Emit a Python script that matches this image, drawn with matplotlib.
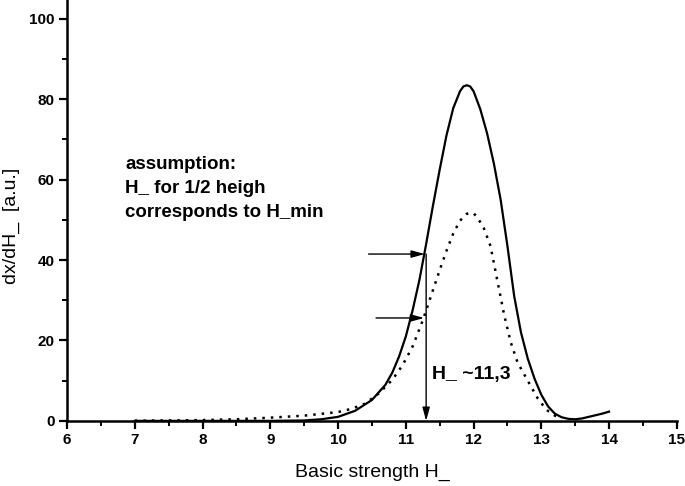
import matplotlib
matplotlib.use('Agg')
import matplotlib.pyplot as plt
from matplotlib.ticker import MultipleLocator

plt.rcParams['font.family'] = ['Liberation Sans', 'DejaVu Sans']

# solid curve
h_solid = [7, 8, 9, 9.5, 9.75, 10, 10.25, 10.5, 10.7, 10.8, 10.9, 11.0, 11.1, 11.2,
           11.3, 11.4, 11.5, 11.6, 11.7, 11.8, 11.85, 11.9, 11.95, 12.0, 12.1,
           12.2, 12.3, 12.4, 12.5, 12.6, 12.7, 12.8, 12.9, 13.0, 13.1, 13.2,
           13.3, 13.4, 13.5, 13.6, 13.75, 13.9, 14.0]
d_solid = [0, 0, 0, 0.1, 0.4, 1.0, 2.5, 5.2, 9.0, 12.0, 16.0, 21, 27.5, 35,
           44, 53.5, 62.5, 71, 77.8, 82, 83.2, 83.5, 83.2, 82, 77.5,
           71.5, 64, 55, 43.5, 31, 22, 15.5, 10.5, 6.5, 3.6, 1.8,
           0.9, 0.5, 0.4, 0.6, 1.2, 1.8, 2.3]

# dotted curve
h_dot = [7, 7.5, 8, 8.5, 9, 9.5, 10, 10.2, 10.4, 10.6, 10.8, 10.95, 11.1, 11.25,
         11.4, 11.5, 11.6, 11.7, 11.8, 11.9, 11.95, 12.0, 12.05, 12.15, 12.25,
         12.35, 12.45, 12.55, 12.65, 12.8, 12.95, 13.08, 13.2, 13.3]
d_dot = [0.05, 0.1, 0.2, 0.4, 0.8, 1.3, 2.2, 3.0, 4.3, 6.8, 10.2, 13.8, 18.5, 25,
         32.5, 37.5, 42.3, 46.6, 49.8, 51.5, 51.8, 51.6, 50.8, 48, 43.5,
         35, 26.5, 19.5, 14.5, 10, 5.5, 2.7, 1.3, 0.8]

h_min = 11.3
y_upper = 41.5
y_lower = 25.6

fig = plt.figure(figsize=(6.85, 4.86), dpi=100)
ax = fig.add_axes([0.098, 0.134, 0.89, 0.866])

ax.plot(h_solid, d_solid, color='black', lw=1.6)
ax.plot(h_dot, d_dot, color='black', lw=1.8, linestyle=(0, (1, 2.4)))

arr = dict(arrowstyle='-|>,head_length=0.8,head_width=0.22', color='black', lw=1.0,
           shrinkA=0, shrinkB=0)
ax.annotate('', xy=(h_min, 0), xytext=(h_min, y_upper), arrowprops=arr)
ax.annotate('', xy=(11.28, y_upper), xytext=(10.45, y_upper), arrowprops=arr)
ax.annotate('', xy=(11.27, y_lower), xytext=(10.56, y_lower), arrowprops=arr)

ax.text(6.86, 66, 'assumption:\nH_ for 1/2 heigh\ncorresponds to H_min',
        fontsize=13.5, fontweight='bold', va='top', ha='left', linespacing=1.55)
ax.text(11.38, 11.5, 'H_ ~11,3', fontsize=14, fontweight='bold', va='center', ha='left')

ax.set_xlim(6, 15)
ax.set_ylim(0, 104.7)
ax.xaxis.set_major_locator(MultipleLocator(1))
ax.xaxis.set_minor_locator(MultipleLocator(0.5))
ax.yaxis.set_major_locator(MultipleLocator(20))
ax.yaxis.set_minor_locator(MultipleLocator(10))

for s in ['top', 'right']:
    ax.spines[s].set_visible(False)
for s in ['left', 'bottom']:
    ax.spines[s].set_linewidth(1.8)

ax.tick_params(which='major', length=6, width=1.6, labelsize=11, pad=3)
ax.tick_params(which='minor', length=3.5, width=1.4)
for lab in ax.get_xticklabels() + ax.get_yticklabels():
    lab.set_fontweight('bold')

ax.set_xlabel('Basic strength H_', fontsize=14, labelpad=12)
ax.set_ylabel('dx/dH_  [a.u.]', fontsize=14)
ax.yaxis.set_label_coords(-0.077, 0.463)

fig.savefig('out.png', dpi=100)
